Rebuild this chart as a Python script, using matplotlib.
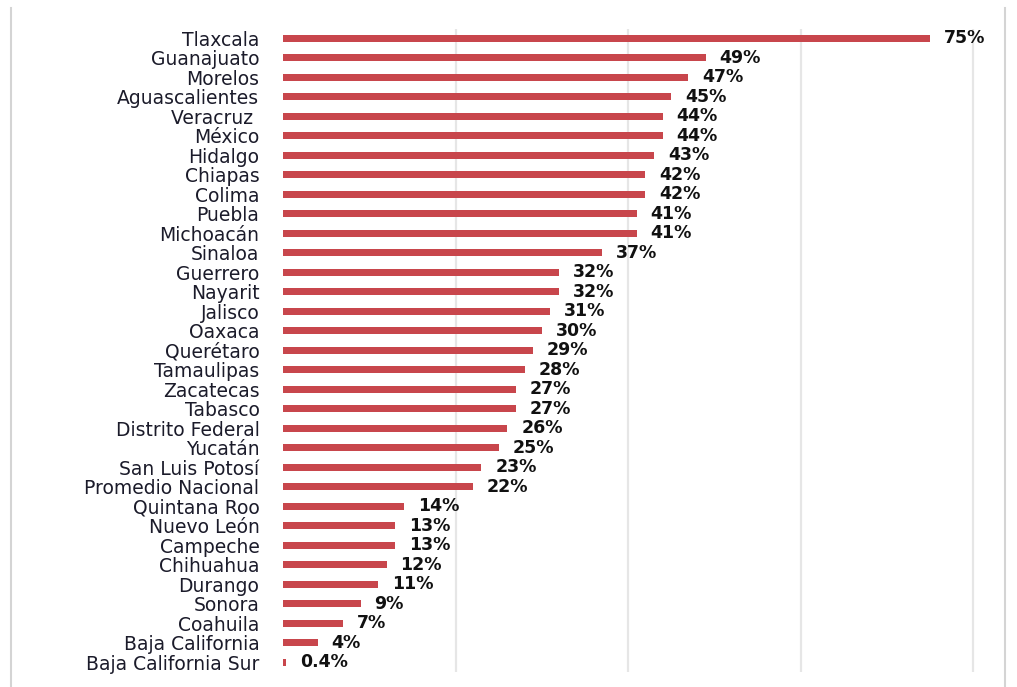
import numpy as np
import matplotlib
matplotlib.use("Agg")
import matplotlib.pyplot as plt
from matplotlib.lines import Line2D

# states, top to bottom
estados = ["Tlaxcala", "Guanajuato", "Morelos", "Aguascalientes", "Veracruz ",
           "México", "Hidalgo", "Chiapas", "Colima", "Puebla", "Michoacán",
           "Sinaloa", "Guerrero", "Nayarit", "Jalisco", "Oaxaca", "Querétaro",
           "Tamaulipas", "Zacatecas", "Tabasco", "Distrito Federal", "Yucatán",
           "San Luis Potosí", "Promedio Nacional", "Quintana Roo", "Nuevo León",
           "Campeche", "Chihuahua", "Durango", "Sonora", "Coahuila",
           "Baja California", "Baja California Sur"]
valores = [75, 49, 47, 45, 44, 44, 43, 42, 42, 41, 41, 37, 32, 32, 31, 30, 29,
           28, 27, 27, 26, 25, 23, 22, 14, 13, 13, 12, 11, 9, 7, 4, 0.4]
etiquetas = ["0.4%" if v < 1 else "%d%%" % v for v in valores]
rejilla = [20, 40, 60, 80]

plt.rcParams['font.family'] = ['DejaVu Sans']

fig = plt.figure(figsize=(10.17, 6.87), dpi=100)
ax = fig.add_axes([0.2783, 0.0218, 0.71, 0.9367])

y = np.arange(len(estados))
ax.barh(y, valores, height=0.36, color='#c8464c', zorder=3)
for g in rejilla:
    ax.axvline(g, color='#e6e6e6', lw=1.6, zorder=1)
for yi, v, t in zip(y, valores, etiquetas):
    ax.annotate(t, (v, yi), xytext=(10, 0), textcoords='offset points',
                va='center', ha='left', fontsize=12.5, fontweight='bold',
                color='#111111')

ax.set_xlim(0, 83.7)
ax.set_ylim(len(estados) - 0.5, -0.5)
ax.set_yticks(y)
ax.set_yticklabels(estados, fontsize=13.5, color='#1b1b2a')
ax.set_xticks([])
ax.tick_params(axis='y', length=0, pad=17)
for s in ax.spines.values():
    s.set_visible(False)

# frame of the screenshot
fig.add_artist(Line2D([11/1017, 11/1017], [0, 1 - 8/687], color='#d4d4d4', lw=1.5))
fig.add_artist(Line2D([1005/1017, 1005/1017], [0, 1 - 8/687], color='#d4d4d4', lw=1.5))

fig.savefig("out.png", dpi=100, facecolor='white')
